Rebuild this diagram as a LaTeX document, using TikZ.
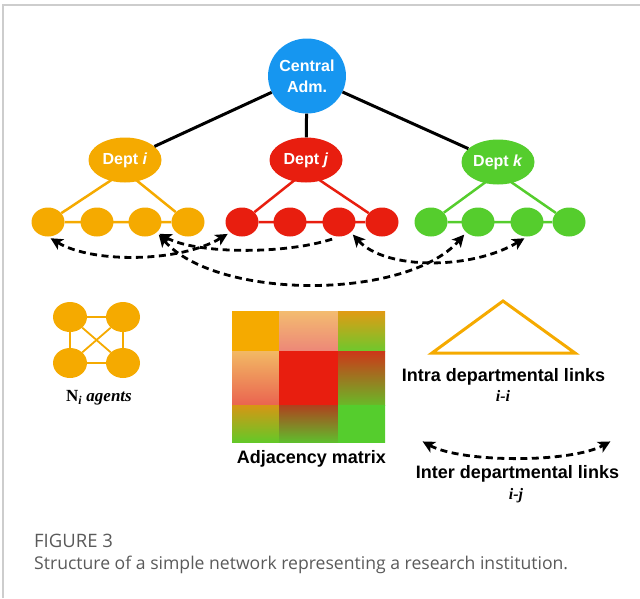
\documentclass[tikz,border=0pt]{standalone}
\usepackage{fontspec}
\setmainfont{Liberation Sans}
\newfontfamily\serfont{Liberation Serif}
\newfontfamily\capfont{Open Sans}
\usetikzlibrary{arrows.meta, shapes.geometric, calc}
\definecolor{orgc}{RGB}{245,170,0}
\definecolor{redc}{RGB}{232,30,15}
\definecolor{grnc}{RGB}{85,205,45}
\definecolor{bluc}{RGB}{22,150,240}
\definecolor{capc}{RGB}{90,90,90}
\definecolor{framec}{RGB}{205,205,205}
\newcommand{\amcell}[6]{\definecolor{amtop}{RGB}{#5}\definecolor{ambot}{RGB}{#6}%
  \shade[top color=amtop, bottom color=ambot] (#1,#2) rectangle (#3,#4);}

\begin{document}
\begin{tikzpicture}[x=1pt, y=-1pt,
    agent/.style={ellipse, minimum width=33pt, minimum height=29pt, inner sep=0pt},
    dept/.style={ellipse, minimum width=73pt, minimum height=45pt, inner sep=0pt,
                 text=white, font=\fontsize{16}{19}\selectfont\bfseries},
    tie/.style={line width=2.5pt},
    boss/.style={line width=3pt, black},
    ilink/.style={line width=2.8pt, dash pattern=on 7pt off 4.5pt,
                  shorten <=3pt, shorten >=3pt},
    lbl/.style={font=\fontsize{18}{21}\selectfont\bfseries, anchor=base},
    ser/.style={font=\serfont\fontsize{17}{20}\selectfont\bfseries\itshape, anchor=base},
    >={Stealth[length=12pt, width=12pt, inset=3pt]}]
\useasboundingbox (0,0) rectangle (640,598);
\draw[line width=1.5pt, framec] (3,598) -- (3,5) -- (640,5);

\node[ellipse, fill=bluc, minimum width=73pt, minimum height=75pt, inner sep=0pt,
      text=white, align=center, font=\fontsize{16}{21}\selectfont\bfseries]
      (ca) at (307,76) {Central\\Adm.};
\node[dept, fill=orgc] (di) at (125,160) {Dept \textit{i}};
\node[dept, fill=redc] (dj) at (306,160) {Dept \textit{j}};
\node[dept, fill=grnc] (dk) at (498,162) {Dept \textit{k}};
\draw[boss] (ca) -- (di) (ca) -- (dj) (ca) -- (dk);

\foreach \n/\x in {1/48, 2/97, 3/145, 4/188}
  \node[agent, fill=orgc] (o\n) at (\x,222) {};
\foreach \n/\x in {1/242, 2/290, 3/339, 4/382}
  \node[agent, fill=redc] (r\n) at (\x,222) {};
\foreach \n/\x in {1/431, 2/478, 3/527, 4/569}
  \node[agent, fill=grnc] (g\n) at (\x,222) {};
\foreach \d/\a/\c in {di/o/orgc, dj/r/redc, dk/g/grnc}
  \draw[tie, \c] ([yshift=-11pt]\d.center) -- (\a1) -- (\a4) -- ([yshift=-11pt]\d.center);

\draw[ilink, <->] (o1.south) .. controls +(45,27) and +(-50,30) .. (r1.south west);
\draw[ilink, <->] (o3.south east) .. controls +(60,68) and +(-60,68) .. (g2.south west);
\draw[ilink, <-] (o3.south east) .. controls +(40,22) and +(-50,18) .. (r3.south);
\draw[ilink, <->] (r3.south east) .. controls +(35,38) and +(-55,33) .. (g3.south);

% legend
\foreach \n/\x/\y in {1/70/317, 2/123/317, 3/70/363, 4/123/363}
  \node[agent, fill=orgc, minimum width=34pt, minimum height=30pt] (a\n) at (\x,\y) {};
\draw[orgc, line width=1.8pt] (a1) -- (a2) -- (a4) -- (a3) -- (a1) -- (a4) (a2) -- (a3);
\node[ser] (nlbl) at (99,401.5) {{\upshape N}\textsubscript{i} agents};

\amcell{232}{311}{279}{351}{245,170,0}{245,170,0}
\amcell{279}{311}{338}{351}{243,188,112}{237,135,120}
\amcell{338}{311}{385}{351}{225,155,20}{110,200,45}
\amcell{232}{351}{279}{405}{242,185,100}{234,100,80}
\amcell{279}{351}{338}{405}{232,30,15}{232,30,15}
\amcell{338}{351}{385}{405}{205,55,25}{105,185,40}
\amcell{232}{405}{279}{442}{215,150,20}{100,200,40}
\amcell{279}{405}{338}{442}{175,65,30}{95,190,45}
\amcell{338}{405}{385}{442}{85,205,45}{85,205,45}
\node[lbl] (amlbl) at (311.5,463) {Adjacency matrix};

\draw[orgc, line width=3pt] (503,301) -- (575,353) -- (432,353) -- cycle;
\node[lbl] (intra) at (503.5,381.5) {Intra departmental links};
\node[ser, font=\serfont\fontsize{16}{19}\selectfont\bfseries\itshape] (iilbl) at (503,401) {i-i};

\coordinate (l1) at (420,440);
\coordinate (l2) at (613,440);
\draw[ilink, <->] (l1) .. controls +(42,23) and +(-42,23) .. (l2);
\node[lbl] (inter) at (517.5,478) {Inter departmental links};
\node[ser, font=\serfont\fontsize{16}{19}\selectfont\bfseries\itshape] (ijlbl) at (516,499) {i-j};

\node[anchor=base west, inner sep=0pt, text=capc, font=\capfont\fontsize{18.5}{22}\selectfont]
     (fignum) at (34,547.5) {FIGURE 3};
\node[anchor=base west, inner sep=0pt, text=capc, font=\capfont\fontsize{17.6}{21}\selectfont]
     (figcap) at (34,569.5) {Structure of a simple network representing a research institution.};
\end{tikzpicture}
\end{document}
